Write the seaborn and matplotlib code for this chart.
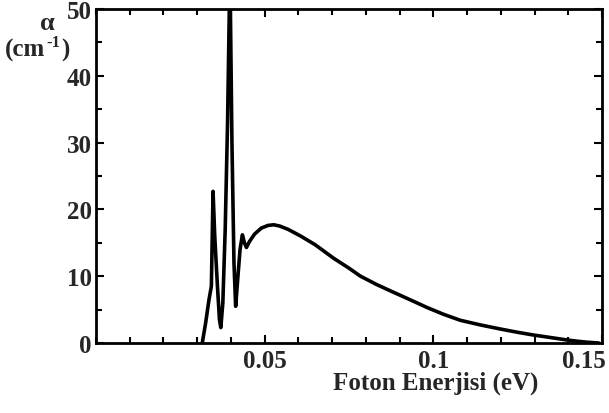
import numpy as np
import pandas as pd
import matplotlib
matplotlib.use("Agg")
import matplotlib.pyplot as plt
import matplotlib.transforms as mtransforms
import seaborn as sns

# Data
energy = [0.0315, 0.0325, 0.0335, 0.0342, 0.0347, 0.0352, 0.0360, 0.0366, 0.0370,
          0.0376, 0.0383, 0.0390, 0.0397, 0.0403, 0.0409, 0.0414, 0.0420, 0.0427,
          0.0434, 0.0440, 0.0446, 0.0455, 0.0470, 0.0490, 0.0510, 0.0527, 0.0545,
          0.0570, 0.0607, 0.0650, 0.0704, 0.0750, 0.0784, 0.0830, 0.0873, 0.0930,
          0.0982, 0.1030, 0.1080, 0.1140, 0.1198, 0.1250, 0.1296, 0.1350, 0.1396,
          0.1430, 0.1455, 0.1490]
alpha = [0.0, 3.0, 6.5, 8.5, 22.7, 16.0, 8.5, 3.5, 2.3,
         6.0, 17.0, 33.0, 56.0, 30.0, 12.0, 5.5, 9.5, 14.0,
         16.2, 15.0, 14.3, 15.2, 16.3, 17.2, 17.6, 17.7, 17.5,
         17.0, 16.0, 14.7, 12.7, 11.2, 10.0, 8.8, 7.8, 6.5,
         5.3, 4.3, 3.4, 2.7, 2.1, 1.6, 1.2, 0.8, 0.45,
         0.25, 0.12, 0.0]

x_major = [0.05, 0.1, 0.15]
x_major_labels = ["0.05", "0.1", "0.15"]
y_major = [0, 10, 20, 30, 40, 50]
y_major_labels = ["0", "10", "20", "30", "40", "50"]

df = pd.DataFrame({"E": energy, "a": alpha})

sns.set_style("ticks")
plt.rcParams["font.family"] = ["Liberation Serif", "DejaVu Serif"]
plt.rcParams["font.weight"] = "bold"

fig = plt.figure(figsize=(6.09, 4.14), dpi=100)
ax = fig.add_axes([96 / 609, 70 / 414, (602 - 96) / 609, (344 - 10) / 414])

sns.lineplot(data=df, x="E", y="a", ax=ax, color="black", linewidth=2.6,
             estimator=None, sort=False)

ax.set_xlim(0, 0.15)
ax.set_ylim(0, 50)
ax.set_xticks(x_major)
ax.set_xticklabels(x_major_labels)
ax.set_yticks(y_major)
ax.set_yticklabels(y_major_labels)
ax.set_xticks(np.arange(0, 0.1501, 0.01), minor=True)
ax.set_yticks(np.arange(0, 50.1, 5), minor=True)

ax.tick_params(which="both", direction="in", top=True, right=True,
               color="black", width=1.5)
ax.tick_params(which="major", length=6, labelsize=18, pad=4)
ax.tick_params(which="minor", length=4)
ax.tick_params(axis="y", which="major", pad=3)
for lab in ax.get_xticklabels() + ax.get_yticklabels():
    lab.set_fontweight("bold")

labs = ax.get_xticklabels()
labs[-1].set_horizontalalignment("right")
labs[-1].set_transform(labs[-1].get_transform() +
                       mtransforms.ScaledTranslation(4 / 100, 0, fig.dpi_scale_trans))

for s in ax.spines.values():
    s.set_linewidth(2)
    s.set_color("black")

ax.set_xlabel("")
ax.set_ylabel("")
fig.text(436 / 609, 1 - 383 / 414, "Foton Enerjisi (eV)", ha="center", va="center",
         fontsize=18, fontweight="bold")
fig.text(47 / 609, 1 - 24 / 414, "α", ha="center", va="center",
         fontsize=19, fontweight="bold")
fig.text(5 / 609, 1 - 57 / 414, "(cm", ha="left", va="baseline",
         fontsize=18, fontweight="bold")
fig.text(46 / 609, 1 - 47 / 414, "-1", ha="left", va="baseline",
         fontsize=12, fontweight="bold")
fig.text(61 / 609, 1 - 57 / 414, ")", ha="left", va="baseline",
         fontsize=18, fontweight="bold")

fig.savefig("out.png", dpi=100)
